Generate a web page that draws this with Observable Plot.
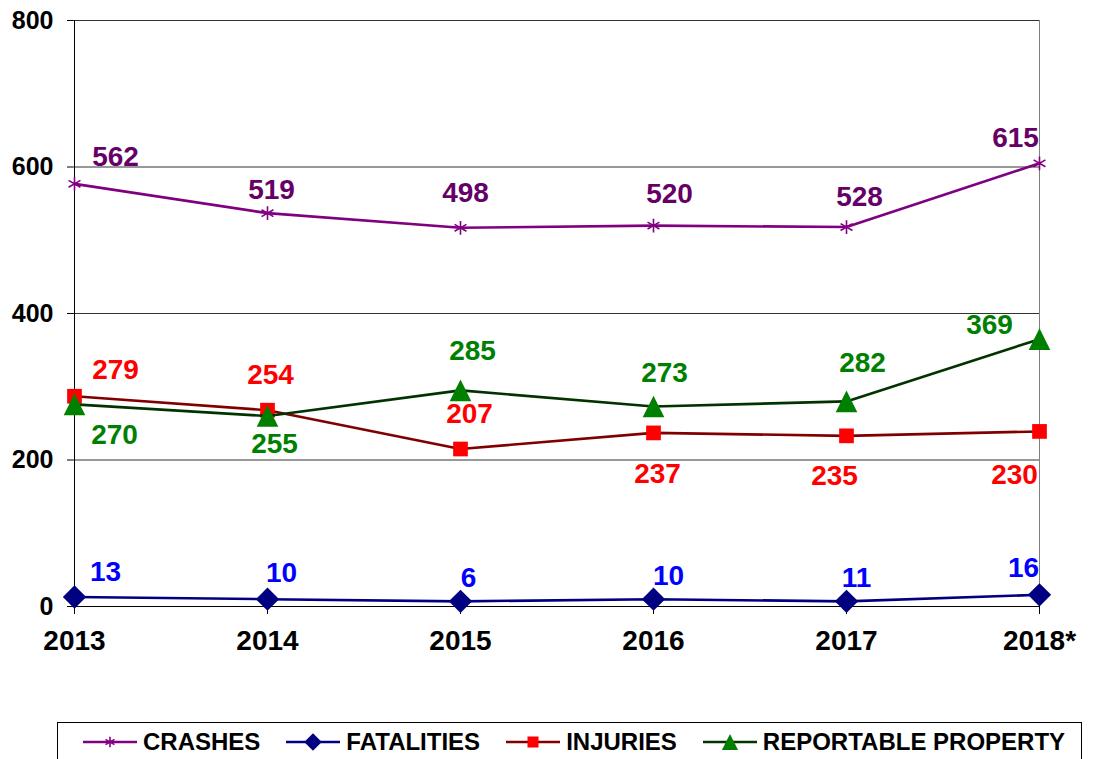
<!DOCTYPE html>
<html>
<head>
<meta charset="utf-8">
<script src="https://cdn.jsdelivr.net/npm/d3@7"></script>
<script src="https://cdn.jsdelivr.net/npm/@observablehq/plot@0.6"></script>
<style>
  body { margin: 0; background: #fff; font-family: "Liberation Sans", Arial, sans-serif; }
  #chart { position: relative; width: 1093px; height: 759px; overflow: hidden; background: #fff; }
  #chart svg.plot { position: absolute; left: 0; top: 0; }
  #legend { position: absolute; left: 57px; top: 722px; width: 1025px; border: 1px solid #000;
            box-sizing: border-box; display: flex; align-items: center; height: 39px; padding-left: 25px;
            border-bottom: none; }
  .item { display: flex; align-items: center; margin-right: 26px; height: 24px; }
  .item svg { display: block; margin-right: 6px; }
  .item span { font-size: 24px; font-weight: bold; line-height: 24px; color: #000; white-space: nowrap; }
</style>
</head>
<body>
<div id="chart"><div id="legend"></div></div>
<script>
// ---- data ----
const years = ["2013", "2014", "2015", "2016", "2017", "2018*"];
const crashes = [577, 537, 517, 520, 518, 605];          // as plotted
const crashesLabels = [562, 519, 498, 520, 528, 615];    // as printed
const fatalities = [13, 10, 7, 10, 7, 16];
const fatalitiesLabels = [13, 10, 6, 10, 11, 16];
const injuries = [287, 268, 215, 237, 233, 239];
const injuriesLabels = [279, 254, 207, 237, 235, 230];
const property = [276, 260, 295, 273, 280, 365];
const propertyLabels = [270, 255, 285, 273, 282, 369];
const yTicks = [0, 200, 400, 600, 800];
const seriesNames = ["CRASHES", "FATALITIES", "INJURIES", "REPORTABLE PROPERTY"];

// ---- layout: label nudges in pixels ----
const crashesNudge = [[41, -27], [4, -23], [5, -35], [16, -32], [13, -30], [-24, -25]];
const fatalitiesNudge = [[31, -25], [14, -26], [8, -23], [15, -23], [10, -23], [-16, -27]];
const injuriesNudge = [[41, -26], [3, -35], [9, -35], [4, 41], [-12, 40], [-25, 44]];
const propertyNudge = [[40, 31], [7, 28], [12, -39], [11, -33], [16, -38], [-50, -14]];

// custom isoceles triangle (Excel-like)
const triangleSym = {
  draw(ctx, size) {
    const h = Math.sqrt(size / Math.PI);
    ctx.moveTo(0, -h);
    ctx.lineTo(h, h);
    ctx.lineTo(-h, h);
    ctx.closePath();
  }
};

const series = [
  { name: seriesNames[0], values: crashes, labels: crashesLabels, nudge: crashesNudge,
    line: "#800080", labelColor: "#660066",
    dot: { symbol: "asterisk", r: 6.5, stroke: "#800080", strokeWidth: 1.6, fill: "none" } },
  { name: seriesNames[1], values: fatalities, labels: fatalitiesLabels, nudge: fatalitiesNudge,
    line: "#000080", labelColor: "#0000FF",
    dot: { symbol: "diamond2", r: 10.5, fill: "#000080", stroke: "none" } },
  { name: seriesNames[2], values: injuries, labels: injuriesLabels, nudge: injuriesNudge,
    line: "#800000", labelColor: "#FF0000",
    dot: { symbol: "square", r: 8.3, fill: "#FF0000", stroke: "none" } },
  { name: seriesNames[3], values: property, labels: propertyLabels, nudge: propertyNudge,
    line: "#003300", labelColor: "#008000",
    dot: { symbol: triangleSym, r: 10.8, fill: "#008000", stroke: "none" } }
];

const marks = [
  Plot.ruleY([200, 400, 600, 800], { stroke: "#333", strokeWidth: 1 }),
  Plot.ruleX([years[years.length - 1]], { stroke: "#808080", strokeWidth: 1 }),
  Plot.ruleX([years[0]], { stroke: "#000", strokeWidth: 1 }),
  Plot.ruleY([0], { stroke: "#000", strokeWidth: 1 }),
  Plot.axisY({ ticks: yTicks, tickSize: 6, tickPadding: 14, fontSize: 25, fontWeight: "bold", label: null, stroke: "#000" }),
  Plot.axisX({ tickSize: 8, tickPadding: 16, fontSize: 28, fontWeight: "bold", label: null, stroke: "#000" })
];

for (const s of series) {
  const rows = years.map((y, i) => ({ year: y, value: s.values[i], label: s.labels[i] }));
  marks.push(Plot.line(rows, { x: "year", y: "value", stroke: s.line, strokeWidth: 2.6 }));
  marks.push(Plot.dot(rows, { x: "year", y: "value", ...s.dot }));
  rows.forEach((d, i) => {
    marks.push(Plot.text([d], {
      x: "year", y: "value", text: (r) => String(r.label),
      dx: s.nudge[i][0], dy: s.nudge[i][1],
      fill: s.labelColor, fontSize: 28, fontWeight: "bold"
    }));
  });
}

const chart = Plot.plot({
  width: 1093,
  height: 700,
  marginLeft: 73,
  marginRight: 53,
  marginTop: 20,
  marginBottom: 94,
  style: { fontFamily: "'Liberation Sans', Arial, sans-serif", background: "transparent", color: "#000" },
  x: { type: "point", domain: years, padding: 0 },
  y: { domain: [0, 800] },
  marks
});
chart.classList.add("plot");
document.getElementById("chart").prepend(chart);

// ---- legend (HTML below the SVG) ----
const legend = document.getElementById("legend");
series.forEach((s) => {
  const item = document.createElement("div");
  item.className = "item";
  const ns = "http://www.w3.org/2000/svg";
  const sw = document.createElementNS(ns, "svg");
  sw.setAttribute("width", 54);
  sw.setAttribute("height", 24);
  const ln = document.createElementNS(ns, "line");
  ln.setAttribute("x1", 0); ln.setAttribute("x2", 54);
  ln.setAttribute("y1", 12); ln.setAttribute("y2", 12);
  ln.setAttribute("stroke", s.line); ln.setAttribute("stroke-width", 2.5);
  sw.appendChild(ln);
  const symMap = { asterisk: d3.symbolAsterisk, diamond2: d3.symbolDiamond2, square: d3.symbolSquare };
  const symType = typeof s.dot.symbol === "string" ? symMap[s.dot.symbol] : s.dot.symbol;
  const rr = s.dot.r * 0.75;
  const p = document.createElementNS(ns, "path");
  p.setAttribute("d", d3.symbol(symType, Math.PI * rr * rr)());
  p.setAttribute("transform", "translate(27,12)");
  p.setAttribute("fill", s.dot.fill);
  p.setAttribute("stroke", s.dot.stroke);
  if (s.dot.strokeWidth) p.setAttribute("stroke-width", s.dot.strokeWidth);
  sw.appendChild(p);
  item.appendChild(sw);
  const t = document.createElement("span");
  t.textContent = s.name;
  item.appendChild(t);
  legend.appendChild(item);
});
</script>
</body>
</html>
